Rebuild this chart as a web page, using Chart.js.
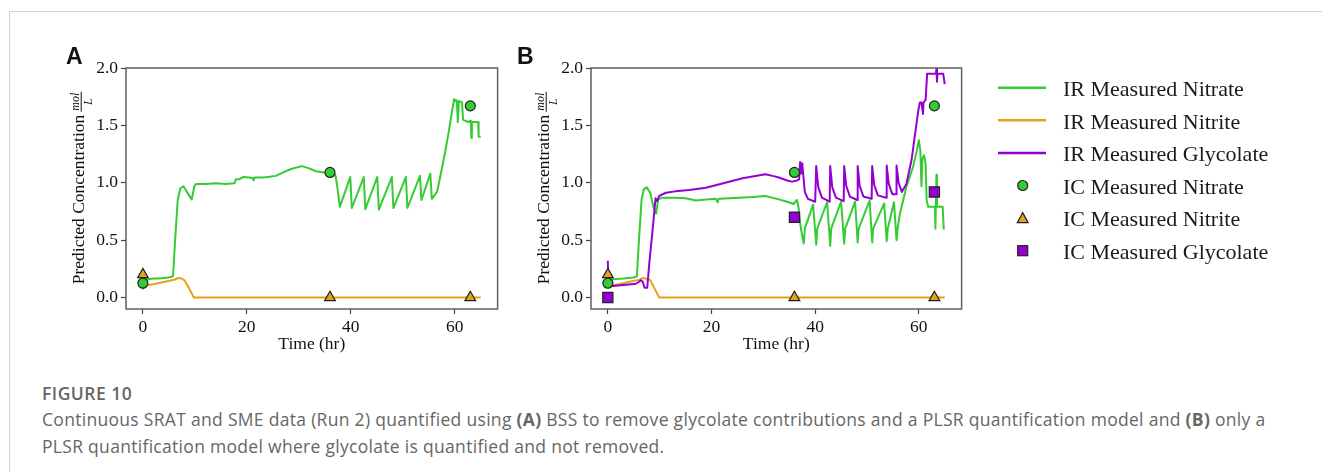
<!DOCTYPE html>
<html>
<head>
<meta charset="utf-8">
<title>Figure 10</title>
<script src="https://cdn.jsdelivr.net/npm/chart.js@4.4.1/dist/chart.umd.min.js"></script>
<style>
    html, body { margin: 0; padding: 0; background: #fff; }
    body { width: 1322px; height: 472px; position: relative; overflow: hidden; }
    .frame { position: absolute; left: 9px; top: 11px; width: 1330px; height: 480px; border: 1px solid #d2d2d2; box-sizing: border-box; }
    .chart-box { position: absolute; top: 0; width: 505px; height: 372px; }
    #boxA { left: 0; }
    #boxB { left: 465px; }
    .panel-label { position: absolute; font-family: "Liberation Sans", Arial, sans-serif; font-weight: bold; font-size: 23px; color: #111; line-height: 1; }
    #legend { position: absolute; left: 0; top: 0; }
    .caption { position: absolute; left: 42px; top: 380px; font-family: "Open Sans", "Noto Sans", sans-serif; color: #666; white-space: nowrap; }
    .caption .fig { font-size: 17.5px; font-weight: 600; line-height: 26px; letter-spacing: 0.5px; }
    .caption .txt { font-size: 17.5px; line-height: 27px; letter-spacing: 0.3px; }
    .caption b { font-weight: 700; }
</style>
</head>
<body>
<div class="frame"></div>
<div class="chart-box" id="boxA"><canvas id="chartA" width="505" height="372"></canvas></div>
<div class="chart-box" id="boxB"><canvas id="chartB" width="505" height="372"></canvas></div>
<div class="panel-label" style="left:66px; top:45px;">A</div>
<div class="panel-label" style="left:517px; top:45px;">B</div>
<svg id="legend" width="1322" height="300"></svg>
<div class="caption">
    <div class="fig">FIGURE 10</div>
    <div class="txt">Continuous SRAT and SME data (Run 2) quantified using <b>(A)</b> BSS to remove glycolate contributions and a PLSR quantification model and <b>(B)</b> only a<br>PLSR quantification model where glycolate is quantified and not removed.</div>
</div>
<script>
// ===================================
// DATOS
// ===================================

const xTicks = [0, 20, 40, 60];
const yTicks = [0, 0.5, 1.0, 1.5, 2.0];

// Panel A: IR nitrato (BSS + PLSR)
const tNitratoA = [0, 0.1, 1, 2, 3, 4, 5, 5.8, 6.2, 6.7, 7.2, 7.8, 8.6, 9.4, 9.9, 10.2, 12, 14, 16, 17.6, 17.9, 18.5, 19.3, 20.5, 21.2, 21.3, 21.5, 23, 24, 25.6, 27, 28.5, 30.6, 32, 33.3, 34.8, 36, 37.0, 37.3, 37.9, 39.9, 40.2, 42.5, 42.8, 45.1, 45.4, 47.9, 48.2, 50.6, 50.9, 53.3, 53.6, 55.3, 55.6, 56.6, 57.6, 58.2, 58.8, 59.5, 59.9, 60.2, 60.4, 60.6, 60.8, 61.0, 61.4, 61.6, 62.5, 63.1, 63.2, 63.3, 64.5, 64.6, 65];
const yNitratoA = [0.07, 0.16, 0.16, 0.165, 0.165, 0.17, 0.175, 0.185, 0.5, 0.85, 0.95, 0.97, 0.91, 0.855, 0.97, 0.99, 0.99, 0.995, 0.99, 0.995, 1.03, 1.03, 1.05, 1.045, 1.04, 1.02, 1.045, 1.045, 1.05, 1.06, 1.09, 1.12, 1.145, 1.125, 1.10, 1.09, 1.08, 1.07, 1.0, 0.79, 1.05, 0.78, 1.05, 0.77, 1.05, 0.765, 1.05, 0.78, 1.05, 0.78, 1.06, 0.85, 1.08, 0.86, 0.92, 1.14, 1.28, 1.43, 1.63, 1.73, 1.71, 1.72, 1.53, 1.71, 1.71, 1.70, 1.55, 1.53, 1.54, 1.39, 1.53, 1.53, 1.40, 1.40];

// Panel A: IR nitrito
const tNitritoA = [0, 2, 4, 6, 6.8, 7.5, 8.0, 9.0, 9.8, 65];
const yNitritoA = [0.10, 0.115, 0.135, 0.155, 0.17, 0.165, 0.15, 0.07, 0.0, 0.0];

// Panel B: IR nitrato (solo PLSR)
const tNitratoB = [0, 1, 3, 5, 5.6, 6.0, 6.5, 6.9, 7.5, 8.2, 8.8, 9.3, 9.7, 10.3, 13, 15, 17, 19, 20.8, 21.2, 21.3, 21.5, 25.3, 28, 30.4, 33, 34.6, 35.8, 36.5, 36.8, 37.1, 37.4, 37.8, 38.0, 39.6, 40.2, 40.4, 42.3, 42.9, 43.1, 45.0, 45.6, 45.8, 47.7, 48.2, 48.4, 50.5, 51.0, 51.2, 53.3, 53.8, 54.0, 55.2, 55.7, 55.9, 56.3, 57.6, 58.9, 59.6, 60.0, 60.3, 60.5, 60.7, 61.0, 61.3, 61.5, 61.8, 63.1, 63.2, 63.4, 63.5, 64.6, 64.8, 65];
const yNitratoB = [0.16, 0.16, 0.165, 0.175, 0.185, 0.5, 0.85, 0.94, 0.96, 0.91, 0.79, 0.73, 0.85, 0.87, 0.87, 0.865, 0.845, 0.855, 0.86, 0.83, 0.855, 0.86, 0.87, 0.875, 0.885, 0.855, 0.835, 0.815, 0.85, 0.78, 0.65, 0.56, 0.47, 0.6, 0.81, 0.46, 0.6, 0.83, 0.45, 0.6, 0.835, 0.47, 0.6, 0.835, 0.48, 0.6, 0.845, 0.48, 0.6, 0.82, 0.49, 0.6, 0.83, 0.50, 0.6, 0.72, 0.965, 1.14, 1.28, 1.37, 1.28, 0.97, 1.21, 1.24, 1.17, 0.85, 0.79, 0.79, 0.60, 1.07, 0.79, 0.79, 0.60, 0.60];

// Panel B: IR nitrito
const tNitritoB = [0, 2, 4, 6.1, 6.7, 7.7, 8.2, 9.0, 9.9, 65];
const yNitritoB = [0.10, 0.115, 0.135, 0.156, 0.17, 0.162, 0.15, 0.08, 0.0, 0.0];

// Panel B: IR glicolato
const tGlicolatoB = [0, 0.1, 1, 3, 5.4, 6.4, 6.7, 7.1, 7.6, 8.0, 8.7, 9.2, 9.5, 9.9, 11.2, 13, 15.7, 18.9, 22.1, 26, 30.4, 32, 33, 34.6, 35.5, 36.5, 36.9, 37.1, 37.3, 37.5, 38.0, 38.6, 40.0, 40.2, 40.6, 41.3, 42.8, 42.9, 43.3, 44.0, 45.5, 45.6, 46.0, 46.7, 48.1, 48.2, 48.6, 49.3, 50.9, 51.0, 51.4, 52.1, 53.7, 53.8, 54.2, 54.9, 55.6, 55.7, 56.1, 56.7, 57.6, 58.6, 59.2, 59.9, 60.2, 60.5, 60.8, 60.9, 61.3, 61.6, 63.3, 63.4, 63.5, 63.6, 64.7, 65];
const yGlicolatoB = [0.32, 0.1, 0.1, 0.11, 0.12, 0.15, 0.14, 0.085, 0.085, 0.30, 0.62, 0.865, 0.84, 0.885, 0.913, 0.925, 0.936, 0.957, 0.994, 1.04, 1.075, 1.058, 1.046, 1.02, 1.01, 1.02, 1.03, 1.18, 1.08, 1.17, 0.92, 0.86, 0.835, 1.145, 0.96, 0.87, 0.835, 1.145, 0.96, 0.87, 0.84, 1.145, 0.97, 0.88, 0.85, 1.145, 0.97, 0.88, 0.86, 1.145, 0.98, 0.89, 0.87, 1.15, 0.99, 0.90, 0.90, 1.15, 1.0, 0.92, 0.99, 1.2, 1.40, 1.63, 1.70, 1.70, 1.60, 1.70, 1.72, 1.95, 1.95, 2.0, 1.88, 1.95, 1.95, 1.86];

// Muestras IC (ambos paneles)
const tIC = [0, 36, 63];
const icNitrato = [0.125, 1.09, 1.67];
const icNitrito = [0.2, 0.0, 0.0];
const icGlicolato = [0.0, 0.70, 0.92];

// ===================================
// ESTILO
// ===================================

const VERDE = '#33cc33';
const NARANJA = '#e3a21a';
const MORADO = '#9400d3';
const SERIF = '"Liberation Serif", "Times New Roman", serif';

function pts(ts, ys) {
    return ts.map((t, i) => ({ x: t, y: ys[i] }));
}

function linea(label, ts, ys, color) {
    return {
        label: label,
        data: pts(ts, ys),
        borderColor: color,
        borderWidth: 2,
        borderJoinStyle: 'round',
        pointRadius: 0,
        tension: 0,
        fill: false
    };
}

function marcador(label, ts, ys, color, estilo, radio) {
    return {
        label: label,
        data: pts(ts, ys),
        showLine: false,
        pointStyle: estilo,
        pointRadius: radio,
        pointBackgroundColor: color,
        pointBorderColor: '#222',
        pointBorderWidth: 1.2
    };
}

// Marco completo del eje y título Y con fracción mol/L
const marcoPlugin = {
    id: 'marco',
    afterDatasetsDraw(chart) {
        const ctx = chart.ctx;
        const a = chart.chartArea;
        ctx.save();
        ctx.strokeStyle = '#5f5f5f';
        ctx.lineWidth = 1.5;
        ctx.strokeRect(a.left, a.top, a.right - a.left, a.bottom - a.top);
        ctx.restore();
    },
    afterDraw(chart) {
        const ctx = chart.ctx;
        const a = chart.chartArea;
        const cy = (a.top + a.bottom) / 2;
        const principal = 'Predicted Concentration';
        ctx.save();
        ctx.translate(84, cy);
        ctx.rotate(-Math.PI / 2);
        ctx.fillStyle = '#111';
        ctx.textBaseline = 'alphabetic';
        ctx.font = '17.5px ' + SERIF;
        const wMain = ctx.measureText(principal).width;
        ctx.font = 'italic 12px ' + SERIF;
        const wNum = ctx.measureText('mol').width;
        const gap = 4;
        const total = wMain + gap + wNum;
        const u0 = -total / 2;
        ctx.font = '17.5px ' + SERIF;
        ctx.textAlign = 'left';
        ctx.fillText(principal, u0, 0);
        const fc = u0 + wMain + gap + wNum / 2;
        ctx.font = 'italic 12px ' + SERIF;
        ctx.textAlign = 'center';
        ctx.fillText('mol', fc, -5);
        ctx.fillRect(fc - wNum / 2 - 1, -3.3, wNum + 2, 1);
        ctx.fillText('L', fc, 7.5);
        ctx.restore();
    }
};

function opciones() {
    const fuente = { family: SERIF, size: 17.5 };
    const grid = { display: true, drawOnChartArea: false, drawTicks: true, tickLength: 5, tickColor: '#444', tickWidth: 1.2 };
    return {
        responsive: false,
        animation: false,
        layout: { padding: { top: 68, right: 6, bottom: 13, left: 0 } },
        plugins: {
            legend: { display: false },
            tooltip: { enabled: false }
        },
        scales: {
            x: {
                type: 'linear',
                min: -3.25,
                max: 68.25,
                afterBuildTicks: function (scale) { scale.ticks = xTicks.map(v => ({ value: v })); },
                afterFit: function (scale) { scale.height = 50; },
                grid: grid,
                border: { display: false },
                ticks: { font: fuente, color: '#111', padding: 3, maxRotation: 0, autoSkip: false },
                title: { display: true, text: 'Time (hr)', font: fuente, color: '#111', padding: { top: 2, bottom: 4 } }
            },
            y: {
                type: 'linear',
                min: -0.1,
                max: 2.0,
                afterBuildTicks: function (scale) { scale.ticks = yTicks.map(v => ({ value: v })); },
                afterFit: function (scale) { scale.width = 126; },
                grid: grid,
                border: { display: false },
                ticks: {
                    font: fuente,
                    color: '#111',
                    padding: 3,
                    autoSkip: false,
                    callback: function (v) { return Number(v).toFixed(1); }
                }
            }
        }
    };
}

// ===================================
// GRÁFICAS
// ===================================

new Chart(document.getElementById('chartA'), {
    type: 'line',
    data: {
        datasets: [
            marcador('IC Measured Nitrate', tIC, icNitrato, VERDE, 'circle', 5),
            marcador('IC Measured Nitrite', tIC, icNitrito, NARANJA, 'triangle', 6.2),
            linea('IR Measured Nitrite', tNitritoA, yNitritoA, NARANJA),
            linea('IR Measured Nitrate', tNitratoA, yNitratoA, VERDE)
        ]
    },
    options: opciones(),
    plugins: [marcoPlugin]
});

new Chart(document.getElementById('chartB'), {
    type: 'line',
    data: {
        datasets: [
            marcador('IC Measured Nitrate', tIC, icNitrato, VERDE, 'circle', 5),
            marcador('IC Measured Nitrite', tIC, icNitrito, NARANJA, 'triangle', 6.2),
            marcador('IC Measured Glycolate', tIC, icGlicolato, MORADO, 'rect', 7.2),
            linea('IR Measured Glycolate', tGlicolatoB, yGlicolatoB, MORADO),
            linea('IR Measured Nitrite', tNitritoB, yNitritoB, NARANJA),
            linea('IR Measured Nitrate', tNitratoB, yNitratoB, VERDE)
        ]
    },
    options: opciones(),
    plugins: [marcoPlugin]
});

// ===================================
// LEYENDA
// ===================================

const leyenda = [
    { texto: 'IR Measured Nitrate', tipo: 'line', color: VERDE },
    { texto: 'IR Measured Nitrite', tipo: 'line', color: NARANJA },
    { texto: 'IR Measured Glycolate', tipo: 'line', color: MORADO },
    { texto: 'IC Measured Nitrate', tipo: 'circle', color: VERDE },
    { texto: 'IC Measured Nitrite', tipo: 'triangle', color: NARANJA },
    { texto: 'IC Measured Glycolate', tipo: 'rect', color: MORADO }
];

const svg = document.getElementById('legend');
const cxMarca = 1022.7;
let html = '';
leyenda.forEach((item, i) => {
    const cy = 87.7 + i * 32.6;
    if (item.tipo === 'line') {
        html += `<line x1="998" x2="1046" y1="${cy}" y2="${cy}" stroke="${item.color}" stroke-width="2.5"/>`;
    } else if (item.tipo === 'circle') {
        html += `<circle cx="${cxMarca}" cy="${cy}" r="5" fill="${item.color}" stroke="#222" stroke-width="1.2"/>`;
    } else if (item.tipo === 'triangle') {
        html += `<polygon points="${cxMarca},${cy - 5.5} ${cxMarca - 5.4},${cy + 4.5} ${cxMarca + 5.4},${cy + 4.5}" fill="${item.color}" stroke="#222" stroke-width="1.2"/>`;
    } else {
        html += `<rect x="${cxMarca - 5}" y="${cy - 5}" width="10" height="10" fill="${item.color}" stroke="#222" stroke-width="1.2"/>`;
    }
    html += `<text x="1063" y="${cy + 8.3}" font-family='"Liberation Serif", "Times New Roman", serif' font-size="22" fill="#1a1a1a">${item.texto}</text>`;
});
svg.innerHTML = html;
</script>
</body>
</html>
